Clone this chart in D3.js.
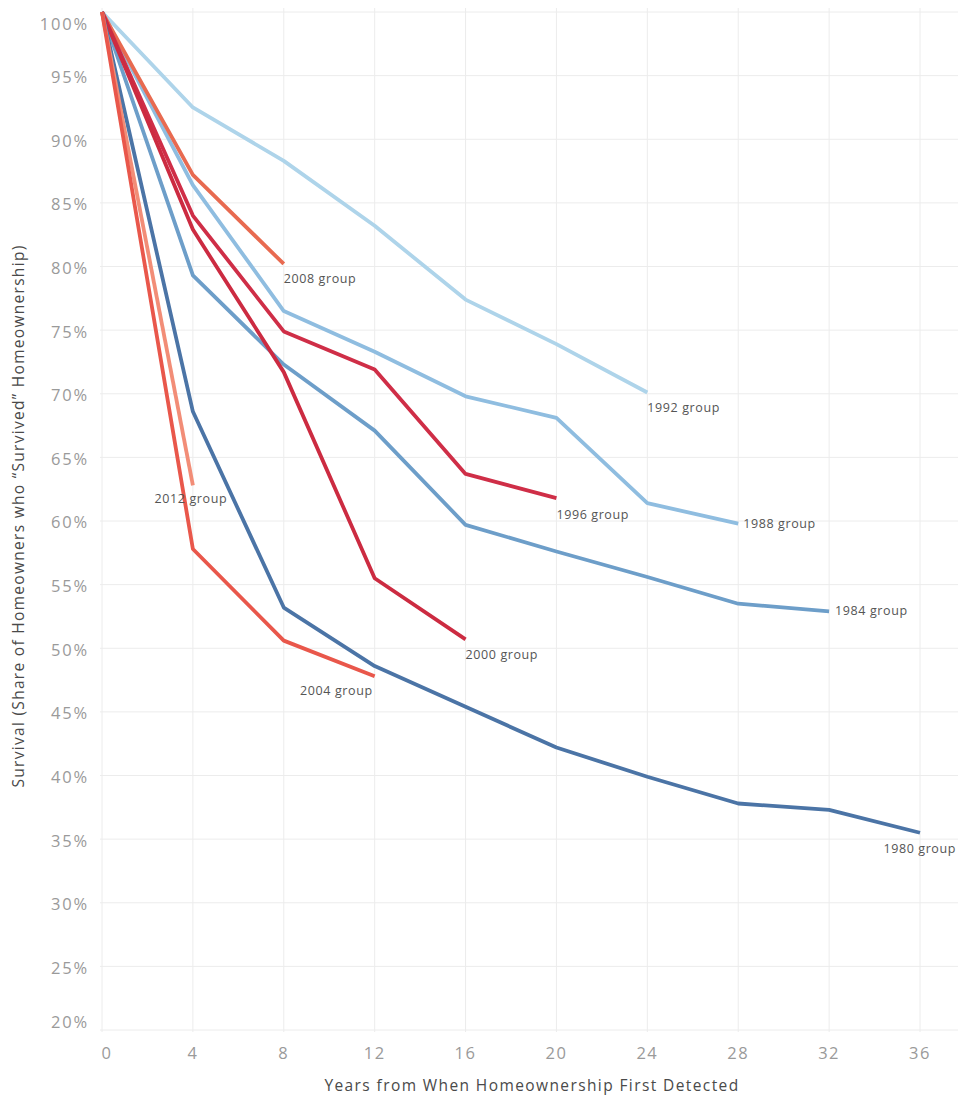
<!DOCTYPE html>
<html>
<head>
<meta charset="utf-8">
<script src="https://cdn.jsdelivr.net/npm/d3@7"></script>
<style>
  html, body { margin: 0; padding: 0; background: #fff; }
  svg { display: block; font-family: "Open Sans", "Noto Sans", sans-serif; }
</style>
</head>
<body>
<svg id="chart" width="958" height="1095"></svg>
<script>
// ---- Data ----
const years = [0, 4, 8, 12, 16, 20, 24, 28, 32, 36];
const xTicks = [0, 4, 8, 12, 16, 20, 24, 28, 32, 36];
const yTicks = [20, 25, 30, 35, 40, 45, 50, 55, 60, 65, 70, 75, 80, 85, 90, 95, 100];
const groups = ["1980 group", "1984 group", "1988 group", "1992 group", "1996 group", "2000 group", "2004 group", "2008 group", "2012 group"];
const s1980 = [100, 68.6, 53.2, 48.6, 45.4, 42.2, 39.9, 37.8, 37.3, 35.5];
const s1984 = [100, 79.3, 72.3, 67.1, 59.7, 57.6, 55.6, 53.5, 52.9];
const s1988 = [100, 86.4, 76.5, 73.3, 69.8, 68.1, 61.4, 59.8];
const s1992 = [100, 92.5, 88.3, 83.2, 77.4, 73.9, 70.1];
const s1996 = [100, 84.0, 74.9, 71.9, 63.7, 61.8];
const s2000 = [100, 82.9, 71.7, 55.5, 50.7];
const s2004 = [100, 57.8, 50.6, 47.8];
const s2008 = [100, 87.2, 80.2];
const s2012 = [100, 62.8];
const seriesValues = [s1980, s1984, s1988, s1992, s1996, s2000, s2004, s2008, s2012];
const colors = ["#4b74a6", "#6d9ec9", "#8fbde0", "#aed4ea", "#cf2e47", "#cc2b41", "#e9574b", "#e86a50", "#f28d77"];
const xTitle = "Years from When Homeownership First Detected";
const yTitle = "Survival (Share of Homeowners who \u201cSurvived\u201d Homeownership)";

// label placement (style)
const labelStyle = {
  "1980 group": {anchor: "end", dx: 36, dy: 20},
  "1984 group": {anchor: "start", dx: 6, dy: 4},
  "1988 group": {anchor: "start", dx: 5, dy: 4},
  "1992 group": {anchor: "start", dx: 0, dy: 20},
  "1996 group": {anchor: "start", dx: 0, dy: 21},
  "2000 group": {anchor: "start", dx: 0, dy: 20},
  "2004 group": {anchor: "end", dx: -2, dy: 19},
  "2008 group": {anchor: "start", dx: 0, dy: 19},
  "2012 group": {anchor: "middle", dx: -2, dy: 18}
};

const svg = d3.select("#chart");
const x = d3.scaleLinear().domain([0, 36]).range([102, 920]);
const y = d3.scaleLinear().domain([20, 100]).range([1030, 12]);

// gridlines
const grid = svg.append("g");
grid.selectAll("line.h").data(yTicks).enter().append("line")
  .attr("x1", 100).attr("x2", 958)
  .attr("y1", d => y(d)).attr("y2", d => y(d))
  .attr("stroke", "#ececec").attr("stroke-width", 1);
grid.selectAll("line.v").data(xTicks).enter().append("line")
  .attr("x1", d => x(d)).attr("x2", d => x(d))
  .attr("y1", 8).attr("y2", 1032)
  .attr("stroke", "#ececec").attr("stroke-width", 1);

// y tick labels
svg.append("g").selectAll("text").data(yTicks).enter().append("text")
  .attr("x", 89)
  .attr("y", d => d === 100 ? y(d) + 14 : (d === 20 ? y(d) - 6 : y(d) + 3))
  .attr("dominant-baseline", "middle")
  .attr("text-anchor", "end")
  .attr("font-size", 16.5).attr("letter-spacing", 1.8)
  .attr("fill", "#9a9a9a")
  .text(d => d + "%");

// x tick labels
svg.append("g").selectAll("text").data(xTicks).enter().append("text")
  .attr("x", d => d === 0 ? x(d) + 5 : x(d))
  .attr("y", 1055)
  .attr("dominant-baseline", "middle")
  .attr("text-anchor", "middle")
  .attr("font-size", 16.5).attr("letter-spacing", 1.5)
  .attr("fill", "#9a9a9a")
  .text(d => d);

// axis titles
svg.append("text")
  .attr("x", 532).attr("y", 1087)
  .attr("dominant-baseline", "middle")
  .attr("text-anchor", "middle")
  .attr("font-size", 15.5).attr("letter-spacing", 1.4)
  .attr("fill", "#4a4a4a")
  .text(xTitle);
svg.append("text")
  .attr("transform", "translate(20,516) rotate(-90)")
  .attr("dominant-baseline", "middle")
  .attr("text-anchor", "middle")
  .attr("font-size", 15.5).attr("letter-spacing", 1.3)
  .attr("fill", "#4a4a4a")
  .text(yTitle);

// lines
const line = d3.line().x(d => x(d[0])).y(d => y(d[1]));
const drawOrder = [3, 2, 1, 7, 4, 5, 0, 8, 6];
const lines = svg.append("g");
drawOrder.forEach(i => {
  const pts = seriesValues[i].map((v, j) => [years[j], v]);
  lines.append("path")
    .attr("d", line(pts))
    .attr("fill", "none")
    .attr("stroke", colors[i])
    .attr("stroke-width", 3.8)
    .attr("stroke-linejoin", "round");
});

// labels
const labels = svg.append("g");
groups.forEach((g, i) => {
  const vals = seriesValues[i];
  const last = vals.length - 1;
  const st = labelStyle[g];
  labels.append("text")
    .attr("x", x(years[last]) + st.dx)
    .attr("y", y(vals[last]) + st.dy)
    .attr("text-anchor", st.anchor)
    .attr("font-size", 12.5).attr("letter-spacing", 0.6)
    .attr("fill", "#555")
    .text(g);
});
</script>
</body>
</html>
